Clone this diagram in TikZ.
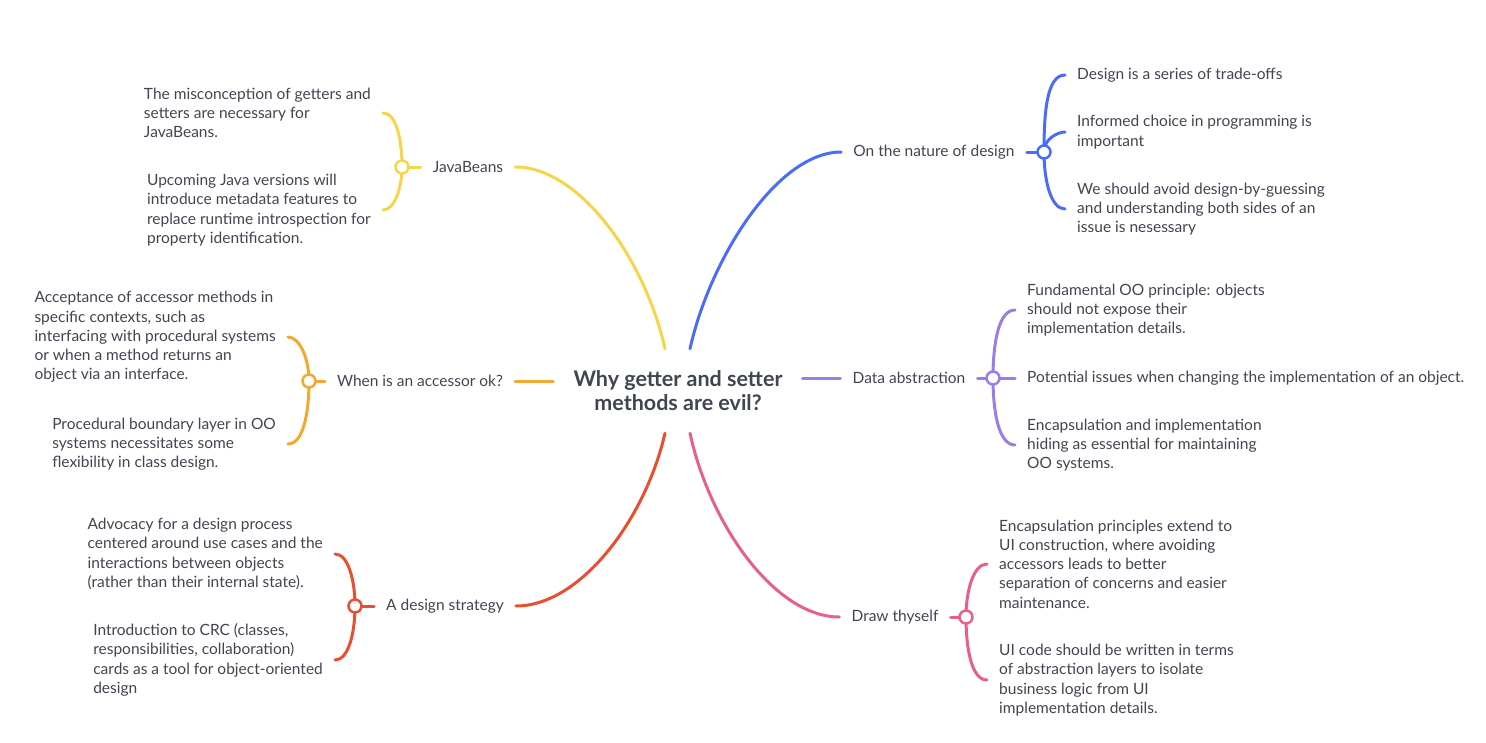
\documentclass[tikz,border=0pt]{standalone}
\usepackage{fontspec}
\setmainfont{Lato}
\usetikzlibrary{positioning}

\definecolor{ink}{HTML}{404552}
\definecolor{cjb}{HTML}{F7D54B}
\definecolor{cacc}{HTML}{F5A830}
\definecolor{cds}{HTML}{E84F30}
\definecolor{cnat}{HTML}{4A6CF7}
\definecolor{cda}{HTML}{9B7DE8}
\definecolor{cdt}{HTML}{E6608A}

\begin{document}
\begin{tikzpicture}[x=1pt,y=-1pt,line cap=round,
  topic/.style={font=\fontsize{15.5}{17}\selectfont,text=ink,inner xsep=12pt,inner ysep=2pt},
  leaf/.style={font=\fontsize{15.5}{19.3}\selectfont,text=ink,align=left,inner xsep=12pt,inner ysep=0pt},
  hub/.style={circle,fill=white,line width=2.5pt,minimum size=13pt,inner sep=0pt},
  br/.style={line width=3pt},
  curl/.style={out looseness=1.2,in looseness=0.6}]
\useasboundingbox (0,0) rectangle (1486,742);

% central topic
\node[font=\bfseries\fontsize{21.5}{24}\selectfont,text=ink,align=center,
  minimum width=249pt,minimum height=84pt] (root) at (678,391)
  {Why getter and setter\\methods are evil?};

% main topics
\node[topic] (jb) at (468,167) {JavaBeans};
\node[topic] (acc) at (420,381) {When is an accessor ok?};
\node[topic] (ds) at (445,606) {A design strategy};
\node[topic] (nat) at (934,152) {On the nature of design};
\node[topic] (da) at (909,378) {Data abstraction};
\node[topic] (dt) at (895,617) {Draw thyself};

\draw[br,cjb] ([xshift=-13pt]root.north) .. controls +(-20,-90) and +(64,0) .. (jb.east);
\draw[br,cacc] ([yshift=10pt]root.west) -- (acc.east);
\draw[br,cds] ([xshift=-13pt]root.south) .. controls +(-20,87) and +(64,0) .. (ds.east);
\draw[br,cnat] ([xshift=12pt]root.north) .. controls +(20,-90) and +(-64,0) .. (nat.west);
\draw[br,cda] ([yshift=13pt]root.east) -- (da.west);
\draw[br,cdt] ([xshift=12pt]root.south) .. controls +(20,92) and +(-64,0) .. (dt.west);

% JavaBeans
\node[leaf,anchor=east] (jb1) at (383,113) {The misconception of getters and\\setters are necessary for\\JavaBeans.};
\node[leaf,anchor=east] (jb2) at (383,210) {Upcoming Java versions will\\introduce metadata features to\\replace runtime introspection for\\property identification.};
\draw[br,cjb] (jb.west) -- (402,167);
\draw[br,cjb] (402,167) to[out=90,in=0,curl] (jb1.east);
\draw[br,cjb] (402,167) to[out=-90,in=0,curl] (jb2.east);
\node[hub,draw=cjb] (jbdot) at (402,167) {};

% accessors
\node[leaf,anchor=east] (acc1) at (288,337) {Acceptance of accessor methods in\\specific contexts, such as\\interfacing with procedural systems\\or when a method returns an\\object via an interface.};
\node[leaf,anchor=east] (acc2) at (288,444) {Procedural boundary layer in OO\\systems necessitates some\\flexibility in class design.};
\draw[br,cacc] (acc.west) -- (309,381);
\draw[br,cacc] (309,381) to[out=90,in=0,curl] (acc1.east);
\draw[br,cacc] (309,381) to[out=-90,in=0,curl] (acc2.east);
\node[hub,draw=cacc] (accdot) at (309,381) {};

% design strategy
\node[leaf,anchor=east] (ds1) at (335,554) {Advocacy for a design process\\centered around use cases and the\\interactions between objects\\(rather than their internal state).};
\node[leaf,anchor=east] (ds2) at (335,660) {Introduction to CRC (classes,\\responsibilities, collaboration)\\cards as a tool for object-oriented\\design};
\draw[br,cds] (ds.west) -- (355,606);
\draw[br,cds] (355,606) to[out=90,in=0,curl] (ds1.east);
\draw[br,cds] (355,606) to[out=-90,in=0,curl] (ds2.east);
\node[hub,draw=cds] (dsdot) at (355,606) {};

% nature of design
\node[leaf,anchor=west] (nat1) at (1065,75) {Design is a series of trade-offs};
\node[leaf,anchor=west] (nat2) at (1065,132) {Informed choice in programming is\\important};
\node[leaf,anchor=west] (nat3) at (1065,209) {We should avoid design-by-guessing\\and understanding both sides of an\\issue is nesessary};
\draw[br,cnat] (nat.east) -- (1044,152);
\draw[br,cnat] (1044,152) to[out=90,in=180,curl] (nat1.west);
\draw[br,cnat] (1044,152) to[out=90,in=180,curl] (nat2.west);
\draw[br,cnat] (1044,152) to[out=-90,in=180,curl] (nat3.west);
\node[hub,draw=cnat] (natdot) at (1044,152) {};

% data abstraction
\node[leaf,anchor=west] (da1) at (1015,310) {Fundamental OO principle: objects\\should not expose their\\implementation details.};
\node[leaf,anchor=west] (da2) at (1015,378) {Potential issues when changing the implementation of an object.};
\node[leaf,anchor=west] (da3) at (1015,445) {Encapsulation and implementation\\hiding as essential for maintaining\\OO systems.};
\draw[br,cda] (da.east) -- (993,378);
\draw[br,cda] (993,378) to[out=90,in=180,curl] (da1.west);
\draw[br,cda] (993,378) -- (da2.west);
\draw[br,cda] (993,378) to[out=-90,in=180,curl] (da3.west);
\node[hub,draw=cda] (dadot) at (993,378) {};

% draw thyself
\node[leaf,anchor=west] (dt1) at (987,564) {Encapsulation principles extend to\\UI construction, where avoiding\\accessors leads to better\\separation of concerns and easier\\maintenance.};
\node[leaf,anchor=west] (dt2) at (987,680) {UI code should be written in terms\\of abstraction layers to isolate\\business logic from UI\\implementation details.};
\draw[br,cdt] (dt.east) -- (966,617);
\draw[br,cdt] (966,617) to[out=90,in=180,curl] (dt1.west);
\draw[br,cdt] (966,617) to[out=-90,in=180,curl] (dt2.west);
\node[hub,draw=cdt] (dtdot) at (966,617) {};
\end{tikzpicture}
\end{document}
